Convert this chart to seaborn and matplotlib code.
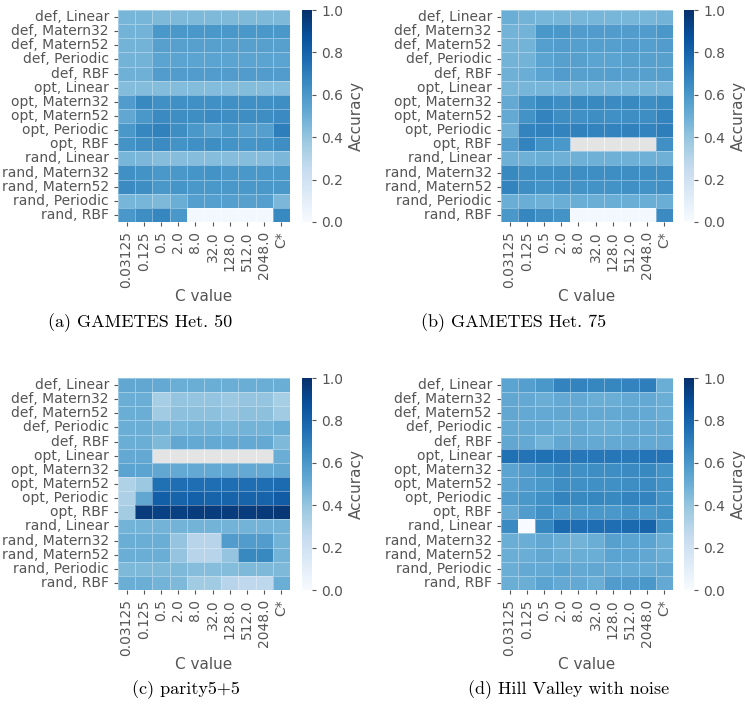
import numpy as np
import pandas as pd
import matplotlib
matplotlib.use("Agg")
import matplotlib.pyplot as plt
import seaborn as sns

sns.set_theme(style="white")
plt.rcParams["font.family"] = ["DejaVu Sans"]

rows = ["def, Linear", "def, Matern32", "def, Matern52", "def, Periodic", "def, RBF",
        "opt, Linear", "opt, Matern32", "opt, Matern52", "opt, Periodic", "opt, RBF",
        "rand, Linear", "rand, Matern32", "rand, Matern52", "rand, Periodic", "rand, RBF"]
c_values = ["0.03125", "0.125", "0.5", "2.0", "8.0", "32.0", "128.0", "512.0", "2048.0", "C*"]
N = np.nan

gametes50 = [
    [0.47, 0.47, 0.45, 0.45, 0.45, 0.45, 0.45, 0.45, 0.45, 0.45],
    [0.48, 0.48, 0.60, 0.60, 0.60, 0.60, 0.60, 0.60, 0.60, 0.60],
    [0.48, 0.48, 0.56, 0.56, 0.56, 0.56, 0.56, 0.56, 0.56, 0.56],
    [0.48, 0.48, 0.55, 0.55, 0.55, 0.55, 0.55, 0.55, 0.55, 0.55],
    [0.49, 0.49, 0.58, 0.58, 0.58, 0.58, 0.58, 0.58, 0.58, 0.58],
    [0.44, 0.44, 0.44, 0.44, 0.44, 0.44, 0.44, 0.44, 0.44, 0.44],
    [0.58, 0.66, 0.63, 0.63, 0.63, 0.63, 0.63, 0.63, 0.63, 0.64],
    [0.53, 0.60, 0.65, 0.64, 0.64, 0.65, 0.64, 0.64, 0.64, 0.65],
    [0.60, 0.67, 0.69, 0.64, 0.60, 0.56, 0.60, 0.57, 0.57, 0.70],
    [0.62, 0.64, 0.65, 0.62, 0.63, 0.64, 0.62, 0.61, 0.62, 0.64],
    [0.47, 0.46, 0.43, 0.43, 0.43, 0.43, 0.43, 0.43, 0.43, 0.46],
    [0.63, 0.62, 0.60, 0.60, 0.61, 0.62, 0.60, 0.60, 0.60, 0.60],
    [0.65, 0.64, 0.60, 0.61, 0.60, 0.60, 0.60, 0.60, 0.60, 0.60],
    [0.47, 0.47, 0.45, 0.50, 0.57, 0.57, 0.57, 0.56, 0.57, 0.46],
    [0.60, 0.64, 0.67, 0.60, 0.02, 0.02, 0.02, 0.02, 0.02, 0.66],
]

gametes75 = [
    [0.50, 0.48, 0.47, 0.47, 0.47, 0.47, 0.47, 0.47, 0.47, 0.48],
    [0.48, 0.48, 0.60, 0.60, 0.58, 0.58, 0.58, 0.58, 0.58, 0.60],
    [0.48, 0.48, 0.57, 0.58, 0.57, 0.57, 0.57, 0.58, 0.57, 0.58],
    [0.48, 0.48, 0.55, 0.56, 0.56, 0.55, 0.55, 0.56, 0.56, 0.56],
    [0.49, 0.50, 0.55, 0.58, 0.56, 0.56, 0.57, 0.56, 0.56, 0.57],
    [0.47, 0.47, 0.47, 0.47, 0.47, 0.47, 0.47, 0.47, 0.47, 0.47],
    [0.52, 0.62, 0.66, 0.64, 0.66, 0.66, 0.65, 0.66, 0.64, 0.66],
    [0.52, 0.62, 0.68, 0.64, 0.63, 0.64, 0.63, 0.64, 0.64, 0.68],
    [0.49, 0.68, 0.69, 0.68, 0.69, 0.68, 0.68, 0.69, 0.68, 0.70],
    [0.58, 0.68, 0.62, 0.60, N, N, N, N, N, 0.63],
    [0.49, 0.49, 0.50, 0.49, 0.49, 0.49, 0.49, 0.49, 0.49, 0.49],
    [0.66, 0.64, 0.64, 0.64, 0.64, 0.64, 0.64, 0.64, 0.64, 0.64],
    [0.68, 0.64, 0.62, 0.63, 0.62, 0.62, 0.62, 0.63, 0.62, 0.63],
    [0.50, 0.50, 0.49, 0.50, 0.50, 0.50, 0.50, 0.50, 0.50, 0.50],
    [0.60, 0.67, 0.64, 0.62, 0.02, 0.02, 0.02, 0.02, 0.02, 0.65],
]

parity = [
    [0.53, 0.53, 0.52, 0.50, 0.50, 0.50, 0.50, 0.50, 0.50, 0.50],
    [0.50, 0.50, 0.35, 0.40, 0.40, 0.40, 0.38, 0.40, 0.40, 0.35],
    [0.50, 0.50, 0.37, 0.42, 0.42, 0.42, 0.40, 0.42, 0.42, 0.37],
    [0.50, 0.50, 0.48, 0.47, 0.48, 0.48, 0.47, 0.48, 0.48, 0.50],
    [0.50, 0.50, 0.45, 0.53, 0.52, 0.52, 0.52, 0.52, 0.52, 0.45],
    [0.52, 0.52, N, N, N, N, N, N, N, 0.50],
    [0.55, 0.55, 0.53, 0.52, 0.52, 0.52, 0.52, 0.52, 0.52, 0.53],
    [0.32, 0.38, 0.75, 0.76, 0.76, 0.76, 0.76, 0.76, 0.76, 0.77],
    [0.33, 0.53, 0.82, 0.80, 0.81, 0.80, 0.80, 0.80, 0.80, 0.83],
    [0.36, 0.95, 0.93, 0.94, 0.95, 0.95, 0.95, 0.95, 0.96, 0.97],
    [0.48, 0.48, 0.48, 0.48, 0.48, 0.48, 0.48, 0.48, 0.48, 0.48],
    [0.50, 0.50, 0.50, 0.40, 0.30, 0.30, 0.58, 0.58, 0.58, 0.48],
    [0.50, 0.50, 0.50, 0.40, 0.30, 0.30, 0.40, 0.66, 0.66, 0.48],
    [0.45, 0.45, 0.45, 0.45, 0.43, 0.43, 0.44, 0.45, 0.45, 0.45],
    [0.50, 0.50, 0.48, 0.45, 0.37, 0.37, 0.30, 0.27, 0.28, 0.50],
]

hill_valley = [
    [0.55, 0.57, 0.60, 0.68, 0.68, 0.67, 0.67, 0.68, 0.70, 0.50],
    [0.53, 0.52, 0.50, 0.52, 0.52, 0.50, 0.50, 0.52, 0.52, 0.50],
    [0.53, 0.52, 0.52, 0.53, 0.52, 0.52, 0.52, 0.53, 0.52, 0.50],
    [0.52, 0.52, 0.52, 0.50, 0.52, 0.50, 0.50, 0.52, 0.52, 0.52],
    [0.53, 0.52, 0.48, 0.53, 0.53, 0.52, 0.52, 0.53, 0.52, 0.52],
    [0.75, 0.74, 0.75, 0.74, 0.73, 0.73, 0.73, 0.72, 0.74, 0.74],
    [0.55, 0.58, 0.62, 0.65, 0.63, 0.64, 0.64, 0.65, 0.66, 0.62],
    [0.55, 0.58, 0.60, 0.64, 0.63, 0.63, 0.63, 0.64, 0.65, 0.62],
    [0.58, 0.60, 0.63, 0.68, 0.66, 0.67, 0.66, 0.68, 0.68, 0.62],
    [0.52, 0.58, 0.63, 0.60, 0.60, 0.60, 0.60, 0.62, 0.60, 0.62],
    [0.65, 0.00, 0.67, 0.78, 0.76, 0.76, 0.76, 0.78, 0.80, 0.62],
    [0.50, 0.50, 0.53, 0.50, 0.48, 0.50, 0.56, 0.55, 0.55, 0.50],
    [0.50, 0.50, 0.53, 0.50, 0.50, 0.50, 0.55, 0.55, 0.53, 0.50],
    [0.50, 0.52, 0.52, 0.55, 0.52, 0.53, 0.52, 0.52, 0.52, 0.53],
    [0.50, 0.50, 0.55, 0.52, 0.52, 0.50, 0.58, 0.58, 0.60, 0.52],
]

panels = [
    (gametes50, "(a) GAMETES Het. 50"),
    (gametes75, "(b) GAMETES Het. 75"),
    (parity, "(c) parity5+5"),
    (hill_valley, "(d) Hill Valley with noise"),
]

W, H = 745, 709
fig = plt.figure(figsize=(W / 100, H / 100), dpi=100)

def frac(x0, y0, x1, y1):
    return [x0 / W, 1 - y1 / H, (x1 - x0) / W, (y1 - y0) / H]

hm_boxes = [(118, 10, 290, 222), (501, 10, 673, 222),
            (118, 378, 290, 590), (501, 378, 673, 590)]
cb_boxes = [(302, 10, 312, 222), (684, 10, 694, 222),
            (302, 378, 312, 590), (684, 378, 694, 590)]
cap_y = [323, 323, 690, 690]
cap_x = [140, 514, 186, 569]

txt = "#555555"
for (data, caption), hb, cbb, cy, cx in zip(panels, hm_boxes, cb_boxes, cap_y, cap_x):
    ax = fig.add_axes(frac(*hb))
    cax = fig.add_axes(frac(*cbb))
    df = pd.DataFrame(data, index=rows, columns=c_values)
    ax.set_facecolor("#e4e4e4")
    sns.heatmap(df, ax=ax, cbar_ax=cax, cmap="Blues", vmin=0, vmax=1,
                linewidths=0.5, linecolor=(1, 1, 1, 0.35),
                xticklabels=True, yticklabels=True,
                cbar_kws={"label": "Accuracy"})
    ax.set_xlabel("C value", fontsize=11, color=txt, labelpad=1)
    ax.set_ylabel("")
    ax.tick_params(axis="both", labelsize=10, colors=txt, length=3, width=0.8,
                   left=True, bottom=True)
    ax.tick_params(axis="x", labelrotation=90)
    ax.tick_params(axis="y", labelrotation=0)
    cax.tick_params(labelsize=10, colors=txt, length=3, width=0.8, right=True)
    cax.set_yticks([0, 0.2, 0.4, 0.6, 0.8, 1.0])
    cax.yaxis.label.set_color(txt)
    cax.yaxis.label.set_size(11)
    fig.text(cx / W, 1 - cy / H, caption, ha="center", va="center",
             fontsize=13, family="cmr10", color="black")

fig.savefig("out.png", dpi=100)
